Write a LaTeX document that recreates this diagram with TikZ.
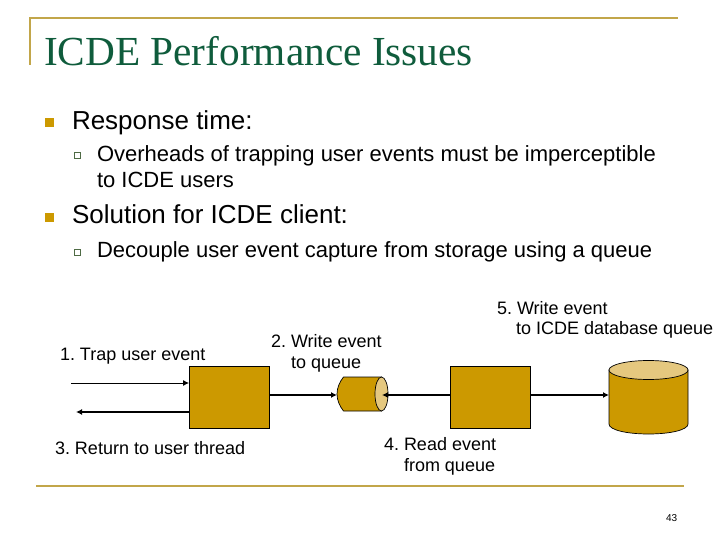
\documentclass[tikz,border=0pt]{standalone}
\usepackage{fontspec}
\setmainfont{Liberation Sans}
\newfontfamily\titlefont{Liberation Serif}
\usetikzlibrary{arrows.meta}
\definecolor{gold}{HTML}{CC9900}
\definecolor{goldlight}{HTML}{E5C87F}
\definecolor{rulegold}{HTML}{C2A64A}
\definecolor{titlegreen}{HTML}{0F5C3C}
\definecolor{subgreen}{HTML}{4F6B45}
\tikzset{
  txt/.style={anchor=base west,inner sep=0pt,outer sep=0pt},
  titletxt/.style={txt,text=titlegreen,font=\titlefont\fontsize{41.3}{41.3}\selectfont},
  lvlone/.style={txt,font=\fontsize{26}{26}\selectfont},
  lvltwo/.style={txt,font=\fontsize{22}{22}\selectfont},
  lbl/.style={txt,font=\fontsize{18}{18}\selectfont},
  pagenum/.style={txt,font=\fontsize{10}{10}\selectfont},
  procbox/.style={draw=black,line width=0.7pt,fill=gold,minimum width=80pt,minimum height=62pt,inner sep=0pt,outer sep=0pt},
  framerule/.style={draw=rulegold,line width=2pt},
  bul/.style={fill=gold,minimum size=9pt,inner sep=0pt,outer sep=0pt},
  subbul/.style={draw=subgreen,line width=1pt,fill=white,minimum size=6pt,inner sep=0pt,outer sep=0pt},
  thin arrow/.style={-{Latex[length=6pt,width=6pt]},line width=0.8pt,draw=black},
  thick arrow/.style={-{Latex[length=6pt,width=6pt]},line width=1.6pt,draw=black},
  bodyfill/.style={draw=black,line width=0.7pt,fill=gold},
  capfill/.style={draw=black,line width=0.7pt,fill=goldlight}
}
\begin{document}
\begin{tikzpicture}[x=1pt,y=-1pt]
\useasboundingbox (0,0) rectangle (720,540);
% frame
\coordinate (fa) at (30,65);
\coordinate (fb) at (30,18);
\coordinate (fc) at (678,18);
\coordinate (fd) at (36,486);
\coordinate (fe) at (684,486);
\draw[framerule] (fa) -- (fb) -- (fc);
\draw[framerule] (fd) -- (fe);
% texts
\node[titletxt] (title) at (44,66) {\frenchspacing ICDE Performance Issues};
\node[bul] (b1) at (49.5,122.5) {};
\node[lvlone] (t1) at (72,130) {Response time:};
\node[subbul] (s1) at (77,156) {};
\node[lvltwo] (t2) at (97,162) {Overheads of trapping user events must be imperceptible};
\node[lvltwo] (t3) at (97,188) {to ICDE users};
\node[bul] (b2) at (49.5,217.5) {};
\node[lvlone] (t4) at (72,224) {Solution for ICDE client:};
\node[subbul] (s2) at (77,252) {};
\node[lvltwo] (t5) at (97,257) {Decouple user event capture from storage using a queue};
% diagram
\node[procbox] (p1) at (229,397) {};
\node[procbox] (p2) at (490,397) {};
% queue cylinder
\path[bodyfill] (381.5,377) -- (343.5,377)
   .. controls (339.5,382) and (337,388) .. (337,394)
   .. controls (337,400) and (339.5,406) .. (343.5,411) -- (381.5,411) -- cycle;
\path[capfill] (381.5,394) ellipse [x radius=6.5pt,y radius=17pt];
% database cylinder
\path[bodyfill] (609,370) -- (609,424)
   .. controls (609,430) and (627,434) .. (648.5,434)
   .. controls (670,434) and (688,430) .. (688,424) -- (688,370) -- cycle;
\path[capfill] (648.5,370) ellipse [x radius=39.5pt,y radius=9.5pt];
\coordinate (in) at (71,383);
\coordinate (out) at (76,412);
\coordinate (p1a) at (189,383);
\coordinate (p1b) at (189,412);
\coordinate (qr) at (382,395);
\coordinate (ql) at (337,395);
\coordinate (p1c) at (269,395);
\coordinate (p2l) at (450,395);
\coordinate (p2r) at (530,395);
\coordinate (dbl) at (609,395);
\draw[thin arrow] (in) -- (p1a);
\draw[thick arrow] (p1b) -- (out);
\draw[thick arrow] (p1c) -- (ql);
\draw[thick arrow] (p2l) -- (qr);
\draw[thick arrow] (p2r) -- (dbl);
% labels
\frenchspacing
\node[lbl] (l1) at (60,360) {1. Trap user event};
\node[lbl] (l3) at (55,454) {3. Return to user thread};
\node[lbl] (l2a) at (271,347) {2. Write event};
\node[lbl] (l2b) at (291,368) {to queue};
\node[lbl] (l5a) at (497,314) {5. Write event};
\node[lbl] (l5b) at (516,334) {to ICDE database queue};
\node[lbl] (l4a) at (384,450) {4. Read event};
\node[lbl] (l4b) at (404,471) {from queue};
\node[pagenum] (pg) at (666,521) {43};
\end{tikzpicture}
\end{document}
